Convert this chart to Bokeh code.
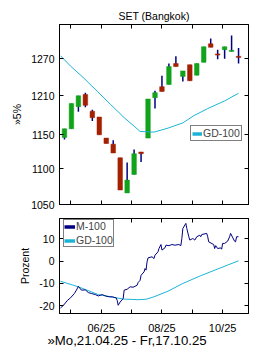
import numpy as np
import pandas as pd
from bokeh.plotting import figure
from bokeh.layouts import column
from bokeh.models import (Range1d, FixedTicker, LinearAxis, LogAxis, Legend,
                          LegendItem, ColumnDataSource, Title)
from bokeh.embed import file_html
from bokeh.resources import INLINE

FONT = "Liberation Sans"
title_text = "SET (Bangkok)"
x_label_text = "»Mo,21.04.25 - Fr,17.10.25"

# weekly candles (week ending Fridays)
week_dates = ["2025-04-25", "2025-05-02", "2025-05-09", "2025-05-16", "2025-05-23",
              "2025-05-30", "2025-06-06", "2025-06-13", "2025-06-20", "2025-06-27",
              "2025-07-04", "2025-07-11", "2025-07-18", "2025-07-25", "2025-08-01",
              "2025-08-08", "2025-08-15", "2025-08-22", "2025-08-29", "2025-09-05",
              "2025-09-12", "2025-09-19", "2025-09-26", "2025-10-03", "2025-10-10",
              "2025-10-17"]
opens = [1146, 1159, 1193, 1212, 1186, 1177, 1145, 1136, 1116, 1066, 1092, 1124.5, 1145,
         1207, 1224.5, 1228, 1262, 1241, 1260, 1243, 1264, 1295, 1278, 1285, 1282, 1274]
closes = [1159, 1198, 1210, 1195, 1176, 1150, 1137, 1123, 1070, 1084, 1122, 1122, 1205,
          1215, 1217, 1257, 1257, 1250, 1234, 1262, 1290, 1289, 1276, 1290, 1284, 1272]
highs = [1159, 1198, 1210, 1215, 1188, 1177, 1145, 1142, 1116, 1109, 1128, 1124.5, 1205,
         1218, 1242, 1262, 1274, 1250, 1260, 1262, 1290, 1304, 1285, 1290, 1309, 1288]
lows = [1143, 1159, 1185, 1192, 1171, 1150, 1137, 1123, 1070, 1066, 1092, 1110, 1145,
        1190, 1217, 1228, 1257, 1233, 1234, 1243, 1264, 1289, 1269, 1270, 1282, 1262]

# GD-100 in price chart
gd_dates = ["2025-04-21", "2025-05-01", "2025-05-14", "2025-05-28", "2025-06-10",
            "2025-06-24", "2025-07-04", "2025-07-10", "2025-07-24", "2025-08-07",
            "2025-08-22", "2025-09-02", "2025-09-16", "2025-10-03", "2025-10-17"]
gd_values = [1275, 1258, 1239, 1217, 1197, 1176, 1163, 1155, 1154, 1160, 1168, 1179,
             1190, 1202, 1214]

# M-100 (percent)
m_dates = ["2025-04-21", "2025-04-24", "2025-04-28", "2025-05-01", "2025-05-05",
           "2025-05-07", "2025-05-09", "2025-05-12", "2025-05-16", "2025-05-19",
           "2025-05-22", "2025-05-26", "2025-05-29", "2025-06-02", "2025-06-05",
           "2025-06-09", "2025-06-12", "2025-06-16", "2025-06-17", "2025-06-18",
           "2025-06-20", "2025-06-23", "2025-06-24", "2025-06-27", "2025-06-30",
           "2025-07-03", "2025-07-07", "2025-07-08", "2025-07-10", "2025-07-11",
           "2025-07-14", "2025-07-15", "2025-07-16", "2025-07-17", "2025-07-18",
           "2025-07-22", "2025-07-24", "2025-07-25", "2025-07-28", "2025-07-29",
           "2025-07-31", "2025-08-01", "2025-08-04", "2025-08-05", "2025-08-08",
           "2025-08-11", "2025-08-14", "2025-08-18", "2025-08-20", "2025-08-21",
           "2025-08-22", "2025-08-25", "2025-08-26", "2025-08-28", "2025-08-29",
           "2025-09-01", "2025-09-02", "2025-09-03", "2025-09-05", "2025-09-08",
           "2025-09-09", "2025-09-10", "2025-09-15", "2025-09-16", "2025-09-17",
           "2025-09-22", "2025-09-23", "2025-09-24", "2025-09-26", "2025-09-29",
           "2025-09-30", "2025-10-01", "2025-10-03", "2025-10-06", "2025-10-08",
           "2025-10-09", "2025-10-13", "2025-10-14", "2025-10-15", "2025-10-17"]
m_values = [-21, -19.8, -17.6, -16.5, -14.5, -13, -11.3, -13, -12.9, -14.1,
            -14.5, -15, -15.6, -15, -15.6, -16, -16, -16.5, -17.6, -19.8,
            -18.3, -16.8, -13, -12.6, -11.5, -11.7, -10.8, -9.6, -8.6, -6.3,
            -4.8, -3.3, -4, -0.3, 1.5, 2, 1.2, 2.7, 4.2, 5.7,
            7.5, 5, 6, 7.2, 7, 7.5, 7.2, 7.5, 7, 10.2,
            14.7, 17, 14.7, 11, 9.5, 10.2, 9.9, 9.5, 11, 11.7,
            11, 12, 12.5, 11, 8.7, 7.5, 5.7, 7, 5.7, 6,
            5.4, 8, 8, 9, 11, 12.5, 9, 8.7, 11, 11]

# GD-100 (percent) in lower panel
lgd_dates = ["2025-04-21", "2025-05-09", "2025-05-29", "2025-06-23", "2025-07-08",
             "2025-07-16", "2025-07-24", "2025-08-07", "2025-08-22", "2025-09-09",
             "2025-09-26", "2025-10-17"]
lgd_values = [-9, -11.5, -15, -17.0, -17.3, -17.1, -16, -13.5, -10, -6.5, -3.5, 0.2]

y_ticks = [1050, 1100, 1150, 1210, 1270]
y_tick_labels = ["1050", "1100", "1150", "1210", "1270"]
pct_ticks = [-20, -10, 0, 10]
pct_tick_labels = ["-20", "-10", "0", "10"]
month_ticks = ["2025-05-01", "2025-06-01", "2025-07-01", "2025-08-01", "2025-09-01", "2025-10-01"]
month_labels = ["", "06/25", "", "08/25", "", "10/25"]

CYAN = "#1cb4d6"
NAVY = "#000080"
GREEN = "#12a21c"
RED = "#a42000"

month_ms = [int(pd.Timestamp(d).value // 10**6) for d in month_ticks]
x_range = Range1d(pd.Timestamp("2025-04-20"), pd.Timestamp("2025-10-27"))


def style_axis(ax, ticks, labels=None, size="10.5px"):
    ax.ticker = FixedTicker(ticks=ticks)
    ax.axis_line_color = "black"
    ax.major_tick_line_color = "black"
    ax.major_tick_in = 4
    ax.major_tick_out = 0
    ax.minor_tick_line_color = None
    ax.major_label_text_font = FONT
    ax.major_label_text_color = "black"
    ax.axis_label_text_font = FONT
    ax.axis_label_text_font_style = "normal"
    ax.axis_label_text_color = "black"
    ax.axis_label_text_font_size = "10.5px"
    if labels is not None:
        ax.major_label_overrides = dict(zip(ticks, labels))
        ax.major_label_text_font_size = size
        ax.major_label_standoff = 5
    else:
        ax.major_label_overrides = {t: "" for t in ticks}
        ax.major_label_text_font_size = "1px"
        ax.major_label_standoff = 0


def base_style(p):
    p.xgrid.visible = False
    p.ygrid.visible = False
    p.outline_line_color = "black"
    p.background_fill_color = "white"
    p.border_fill_color = "white"


# ---------- main chart ----------
p1 = figure(width=260, height=210, x_axis_type="datetime", y_axis_type="log",
            x_range=x_range, y_range=Range1d(1050, 1328),
            output_backend="svg", toolbar_location=None,
            min_border_left=59, min_border_right=12, min_border_top=24, min_border_bottom=6)
p1.extra_y_ranges = {"legend": Range1d(1e6, 2e6)}
p1.title.text = title_text
p1.title.align = "center"
p1.title.text_font = FONT
p1.title.text_font_size = "10.5px"
p1.title.text_font_style = "normal"
p1.title.text_color = "black"
p1.title.standoff = 5
base_style(p1)

wd = pd.to_datetime(week_dates)
o = np.array(opens, dtype=float)
c = np.array(closes, dtype=float)
src = ColumnDataSource(dict(
    x=wd, low=lows, high=highs,
    bottom=np.minimum(o, c), top=np.maximum(o, c),
    color=[GREEN if cc >= oo else RED for oo, cc in zip(o, c)]))
p1.segment(x0="x", x1="x", y0="low", y1="high", source=src, line_color=NAVY, line_width=1.5)
p1.vbar(x="x", width=4.6 * 86400000, bottom="bottom", top="top", source=src,
        fill_color="color", line_color="color", line_width=0.5)
p1.line(pd.to_datetime(gd_dates), gd_values, line_color=CYAN, line_width=1)
# legend-only renderer (drawn on an off-screen range so only its legend glyph shows)
leg_gd1 = p1.line(pd.to_datetime(gd_dates), gd_values, line_color=CYAN, line_width=3.5,
                  y_range_name="legend")

ya = p1.yaxis[0]
style_axis(ya, y_ticks, y_tick_labels)
ya.axis_label = "»5%"
ya.axis_label_standoff = 5
style_axis(p1.xaxis[0], month_ms)
ra = LogAxis()
style_axis(ra, y_ticks)
p1.add_layout(ra, "right")
ta = LinearAxis()
style_axis(ta, month_ms)
p1.add_layout(ta, "above")

leg1 = Legend(items=[LegendItem(label="GD-100", renderers=[leg_gd1])],
              location=(131, 63), border_line_color="black", border_line_width=1,
              background_fill_color="white", background_fill_alpha=1,
              label_text_font=FONT, label_text_font_size="10.5px",
              glyph_width=10, glyph_height=11, label_height=11, label_standoff=1,
              padding=1, spacing=0, margin=0)
p1.add_layout(leg1)

# ---------- lower chart ----------
p2 = figure(width=260, height=140, x_axis_type="datetime",
            x_range=x_range, y_range=Range1d(-23.5, 19.2),
            output_backend="svg", toolbar_location=None,
            min_border_left=59, min_border_right=12, min_border_top=8, min_border_bottom=37)
p2.extra_y_ranges = {"legend": Range1d(1000, 2000)}
base_style(p2)

p2.line(pd.to_datetime(lgd_dates), lgd_values, line_color=CYAN, line_width=1)
p2.line(pd.to_datetime(m_dates), m_values, line_color=NAVY, line_width=1)
leg_m = p2.line(pd.to_datetime(m_dates), m_values, line_color=NAVY, line_width=3.5,
                y_range_name="legend")
leg_g = p2.line(pd.to_datetime(lgd_dates), lgd_values, line_color=CYAN, line_width=3.5,
                y_range_name="legend")

ya2 = p2.yaxis[0]
style_axis(ya2, pct_ticks, pct_tick_labels)
ya2.axis_label = "Prozent"
ya2.axis_label_standoff = 5
xa2 = p2.xaxis[0]
style_axis(xa2, month_ms, month_labels, size="11px")
xa2.major_label_standoff = 8
ra2 = LinearAxis()
style_axis(ra2, pct_ticks)
p2.add_layout(ra2, "right")
ta2 = LinearAxis()
style_axis(ta2, month_ms)
p2.add_layout(ta2, "above")

xt = Title(text=x_label_text, align="left", offset=-12, vertical_align="top",
           text_font=FONT, text_font_size="13.2px", text_font_style="normal",
           text_color="black", standoff=-7)
p2.add_layout(xt, "below")

leg2 = Legend(items=[LegendItem(label="M-100", renderers=[leg_m]),
                     LegendItem(label="GD-100", renderers=[leg_g])],
              location=(4, 66), border_line_color="black", border_line_width=1,
              background_fill_color="white", background_fill_alpha=1,
              label_text_font=FONT, label_text_font_size="10.5px",
              glyph_width=11, glyph_height=11, label_height=11, label_standoff=1,
              padding=0, spacing=2, margin=0)
p2.add_layout(leg2)

layout = column(p1, p2, spacing=0)
open("out.html", "w").write(file_html(layout, INLINE))
